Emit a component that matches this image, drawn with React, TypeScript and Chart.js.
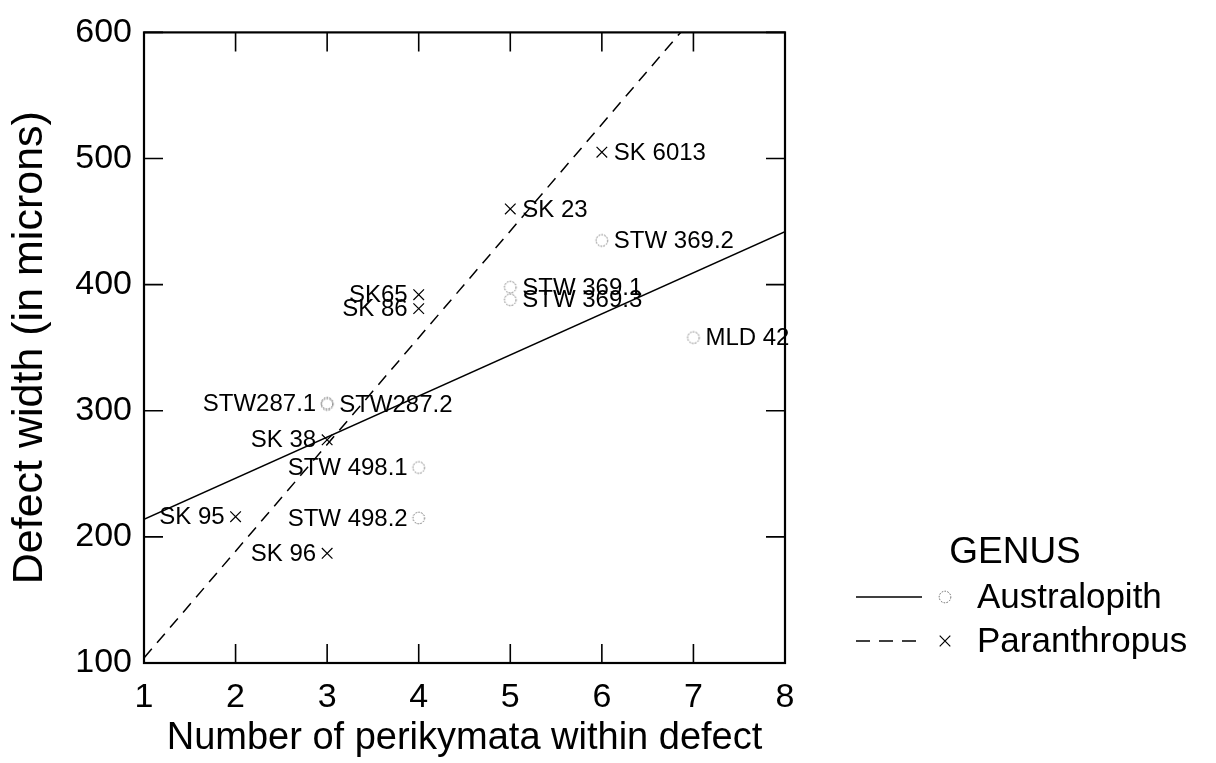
import React, { useEffect, useRef } from 'react';
import { Chart, registerables } from 'chart.js';

Chart.register(...registerables);

const FONT = '"Liberation Sans", Arial, Helvetica, sans-serif';

const seriesNames = ['Australopith', 'Paranthropus'];
const legendTitle = 'GENUS';
const xTitle = 'Number of perikymata within defect';
const yTitle = 'Defect width (in microns)';

const xTicks = [1, 2, 3, 4, 5, 6, 7, 8];
const yTicks = [100, 200, 300, 400, 500, 600];

const australopithX = [3, 3, 4, 4, 5, 5, 6, 7];
const australopithY = [306, 305, 255, 215, 398, 388, 435, 358];
const australopithLabels = ['STW287.1', 'STW287.2', 'STW 498.1', 'STW 498.2', 'STW 369.1', 'STW 369.3', 'STW 369.2', 'MLD 42'];
const australopithSide = ['left', 'right', 'left', 'left', 'right', 'right', 'right', 'right'];

const paranthropusX = [2, 3, 3, 4, 4, 5, 6];
const paranthropusY = [216, 277, 187, 392, 381, 460, 505];
const paranthropusLabels = ['SK 95', 'SK 38', 'SK 96', 'SK65', 'SK 86', 'SK 23', 'SK 6013'];
const paranthropusSide = ['left', 'left', 'left', 'left', 'left', 'right', 'right'];

const australopithFitX = [1, 8];
const australopithFitY = [214, 442];
const paranthropusFitX = [1, 6.86];
const paranthropusFitY = [104, 600];

let circleMarkerCache: HTMLCanvasElement | null = null;
function circleMarker(): HTMLCanvasElement {
  if (circleMarkerCache) return circleMarkerCache;
  const c = document.createElement('canvas');
  c.width = 16;
  c.height = 16;
  const g = c.getContext('2d')!;
  g.strokeStyle = '#666';
  g.lineWidth = 1;
  g.setLineDash([1.6, 1.3]);
  g.beginPath();
  g.arc(8, 8, 5.8, 0, Math.PI * 2);
  g.stroke();
  circleMarkerCache = c;
  return c;
}

function pts(xs: number[], ys: number[]) {
  return xs.map((x, i) => ({ x, y: ys[i] }));
}

const framePlugin = {
  id: 'frameTicks',
  afterDatasetsDraw(chart: any) {
    const { ctx, chartArea, scales } = chart;
    const { left, right, top, bottom } = chartArea;
    const x = scales.x;
    const y = scales.y;
    const tl = 19;
    ctx.save();
    ctx.strokeStyle = '#000';
    ctx.lineWidth = 1.6;
    ctx.beginPath();
    xTicks.forEach((v) => {
      const px = x.getPixelForValue(v);
      ctx.moveTo(px, bottom);
      ctx.lineTo(px, bottom - tl);
      ctx.moveTo(px, top);
      ctx.lineTo(px, top + tl);
    });
    yTicks.forEach((v) => {
      const py = y.getPixelForValue(v);
      ctx.moveTo(left, py);
      ctx.lineTo(left + tl, py);
      ctx.moveTo(right, py);
      ctx.lineTo(right - tl, py);
    });
    ctx.stroke();
    ctx.lineWidth = 2.2;
    ctx.strokeRect(left, top, right - left, bottom - top);
    ctx.restore();
  },
};

const labelPlugin = {
  id: 'pointLabels',
  afterDatasetsDraw(chart: any) {
    const { ctx } = chart;
    const groups = [
      { ds: 2, labels: australopithLabels, sides: australopithSide },
      { ds: 3, labels: paranthropusLabels, sides: paranthropusSide },
    ];
    ctx.save();
    ctx.fillStyle = '#000';
    ctx.font = `24px ${FONT}`;
    ctx.textBaseline = 'middle';
    groups.forEach((g) => {
      const meta = chart.getDatasetMeta(g.ds);
      meta.data.forEach((el: any, i: number) => {
        const side = g.sides[i];
        ctx.textAlign = side === 'left' ? 'right' : 'left';
        const dx = side === 'left' ? -11 : 12;
        ctx.fillText(g.labels[i], el.x + dx, el.y + 1);
      });
    });
    ctx.restore();
  },
};

const legendPlugin = {
  id: 'genusLegend',
  afterDraw(chart: any) {
    const { ctx } = chart;
    ctx.save();
    ctx.fillStyle = '#000';
    ctx.textBaseline = 'middle';
    ctx.font = `37px ${FONT}`;
    ctx.textAlign = 'center';
    ctx.fillText(legendTitle, 1015, 553);
    ctx.font = `35px ${FONT}`;
    ctx.textAlign = 'left';
    const rows = [597, 641];
    ctx.strokeStyle = '#000';
    ctx.lineWidth = 1.5;
    ctx.beginPath();
    ctx.setLineDash([]);
    ctx.moveTo(856, rows[0]);
    ctx.lineTo(922, rows[0]);
    ctx.stroke();
    ctx.drawImage(circleMarker(), 945 - 8, rows[0] - 8);
    ctx.fillText(seriesNames[0], 977, rows[0] + 1);
    ctx.beginPath();
    ctx.setLineDash([14, 9]);
    ctx.moveTo(856, rows[1]);
    ctx.lineTo(922, rows[1]);
    ctx.stroke();
    ctx.setLineDash([]);
    ctx.lineWidth = 1.2;
    ctx.beginPath();
    const r = 5.3;
    ctx.moveTo(945 - r, rows[1] - r);
    ctx.lineTo(945 + r, rows[1] + r);
    ctx.moveTo(945 + r, rows[1] - r);
    ctx.lineTo(945 - r, rows[1] + r);
    ctx.stroke();
    ctx.fillText(seriesNames[1], 977, rows[1] + 1);
    ctx.restore();
  },
};

export default function App() {
  const ref = useRef<HTMLCanvasElement | null>(null);

  useEffect(() => {
    document.body.style.margin = '0';
    const canvas = ref.current;
    if (!canvas) return;
    const chart = new Chart(canvas, {
      type: 'scatter',
      data: {
        datasets: [
          {
            label: seriesNames[0] + ' fit',
            data: pts(australopithFitX, australopithFitY),
            showLine: true,
            borderColor: '#000',
            borderWidth: 1.5,
            pointRadius: 0,
            fill: false,
          },
          {
            label: seriesNames[1] + ' fit',
            data: pts(paranthropusFitX, paranthropusFitY),
            showLine: true,
            borderColor: '#000',
            borderWidth: 1.5,
            borderDash: [12, 8],
            pointRadius: 0,
            fill: false,
          },
          {
            label: seriesNames[0],
            data: pts(australopithX, australopithY),
            pointStyle: circleMarker() as any,
            pointRadius: 6,
            showLine: false,
          },
          {
            label: seriesNames[1],
            data: pts(paranthropusX, paranthropusY),
            pointStyle: 'crossRot',
            pointRadius: 7.5,
            pointBorderColor: '#000',
            pointBorderWidth: 1.2,
            borderColor: '#000',
            showLine: false,
          },
        ],
      },
      options: {
        animation: false,
        responsive: false,
        maintainAspectRatio: false,
        layout: { padding: { top: 26, right: 431, bottom: 0, left: 0 } },
        plugins: {
          legend: { display: false },
          tooltip: { enabled: false },
        },
        scales: {
          x: {
            type: 'linear',
            min: 1,
            max: 8,
            afterBuildTicks: (s: any) => {
              s.ticks = xTicks.map((v) => ({ value: v }));
            },
            afterFit: (s: any) => {
              s.height = 100;
            },
            grid: { display: false, drawTicks: false },
            border: { display: false },
            ticks: {
              color: '#000',
              font: { family: FONT, size: 34 },
              padding: 14,
              maxRotation: 0,
            },
            title: {
              display: true,
              text: xTitle,
              color: '#000',
              font: { family: FONT, size: 38 },
              padding: { top: 0, bottom: 2 },
            },
          },
          y: {
            type: 'linear',
            min: 100,
            max: 600,
            afterBuildTicks: (s: any) => {
              s.ticks = yTicks.map((v) => ({ value: v }));
            },
            afterFit: (s: any) => {
              s.width = 144;
            },
            grid: { display: false, drawTicks: false },
            border: { display: false },
            ticks: {
              color: '#000',
              font: { family: FONT, size: 34 },
              padding: 12,
            },
            title: {
              display: true,
              text: yTitle,
              color: '#000',
              font: { family: FONT, size: 43 },
              padding: { top: 4, bottom: 0 },
            },
          },
        },
      },
      plugins: [framePlugin, labelPlugin, legendPlugin],
    } as any);
    return () => chart.destroy();
  }, []);

  return (
    <div style={{ position: 'fixed', left: 0, top: 0, width: 1216, height: 763, background: '#fff' }}>
      <canvas ref={ref} width={1216} height={763} style={{ width: 1216, height: 763, display: 'block' }} />
    </div>
  );
}
